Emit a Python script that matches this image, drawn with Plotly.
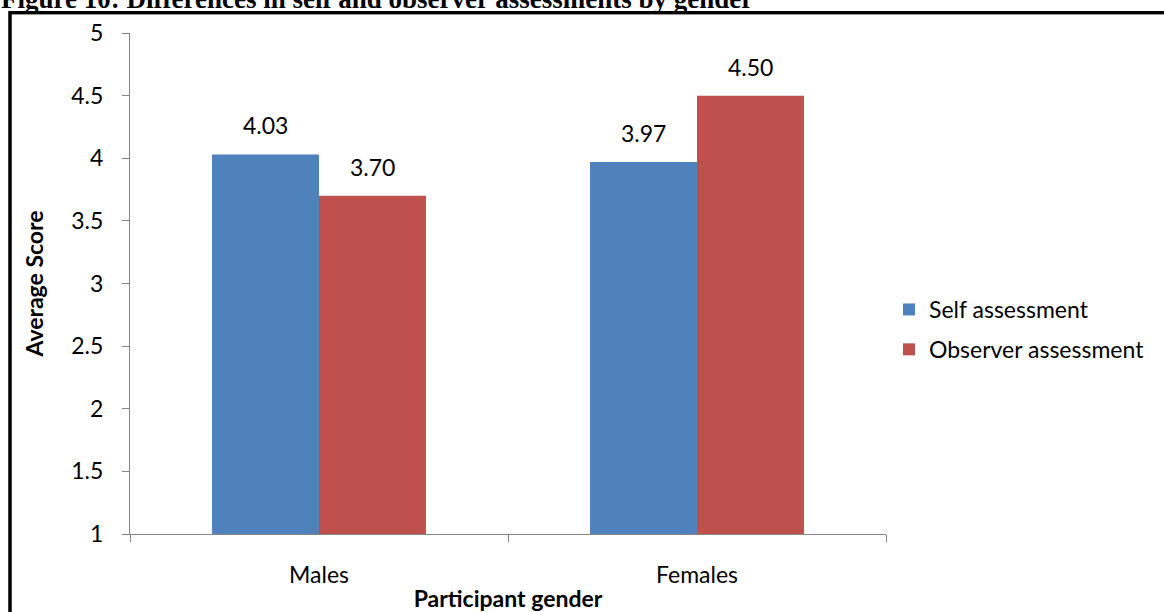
import plotly.graph_objects as go

categories = ["Males", "Females"]
self_scores = [4.03, 3.97]
observer_scores = [3.70, 4.50]
y_ticks = [1, 1.5, 2, 2.5, 3, 3.5, 4, 4.5, 5]

FONT = "Lato, 'Open Sans', sans-serif"
FS = 23
W, H = 1164, 612
L, R, T, B = 130, 278, 33, 78

fig = go.Figure()
fig.add_trace(go.Bar(
    name="Self assessment", x=categories, y=self_scores, legendgroup="self",
    marker=dict(color="#4F81BD", line=dict(width=0)), offsetgroup="self",
))
fig.add_trace(go.Bar(
    name="Observer assessment", x=categories, y=observer_scores, legendgroup="obs",
    marker=dict(color="#C0504D", line=dict(width=0)), offsetgroup="obs",
))

pw, ph = W - L - R, H - T - B
def px_x(p):
    return (p - L) / pw
def px_y(p):
    return (H - B - p) / ph

# value labels above each bar (bar centre offset within its category)
annotations = []
bar_offset = (1 - 0.434) / 4
for i, cat in enumerate(categories):
    for vals, shift in ((self_scores, -bar_offset), (observer_scores, bar_offset)):
        annotations.append(dict(
            x=i + shift, y=vals[i], xref="x", yref="y", text=f"{vals[i]:.2f}",
            showarrow=False, yanchor="bottom", yshift=13,
            font=dict(family=FONT, size=FS, color="#000000")))

annotations.append(dict(
    text="<b>Figure 10: Differences in self and observer assessments by gender</b>",
    xref="paper", yref="paper", x=px_x(-1), y=px_y(16),
    xanchor="left", yanchor="bottom", showarrow=False,
    font=dict(family="'Liberation Serif', 'Times New Roman', serif", size=27, color="#000000")))

shapes = [
    # outer frame
    dict(type="line", xref="paper", yref="paper", x0=px_x(10), x1=px_x(1170),
         y0=px_y(12.5), y1=px_y(12.5), line=dict(color="#000000", width=3)),
    dict(type="line", xref="paper", yref="paper", x0=px_x(10), x1=px_x(10),
         y0=px_y(11), y1=px_y(620), line=dict(color="#000000", width=3.5)),
    dict(type="line", xref="paper", yref="paper", x0=px_x(12), x1=px_x(1170),
         y0=px_y(14.5), y1=px_y(14.5), line=dict(color="#9a9a9a", width=1)),
]

fig.update_layout(
    width=W, height=H,
    margin=dict(l=L, r=R, t=T, b=B, autoexpand=False),
    paper_bgcolor="white", plot_bgcolor="white",
    barmode="group", bargap=0.434, bargroupgap=0,
    font=dict(family=FONT, size=FS, color="#000000"),
    showlegend=True,
    legend=dict(x=px_x(889), y=px_y(288), xanchor="left", yanchor="top",
                font=dict(size=FS), tracegroupgap=7,
                traceorder="grouped", itemwidth=30),
    xaxis=dict(showline=True, linecolor="#868686", linewidth=1,
               ticks="outside", ticklen=7, tickcolor="#868686",
               tickson="boundaries", showgrid=False, range=[-0.5, 1.5],
               ticklabelstandoff=20,
               title=dict(text="<b>Participant gender</b>", font=dict(size=FS), standoff=6)),
    yaxis=dict(range=[1, 5], tickvals=y_ticks, showline=True, linecolor="#868686",
               linewidth=1, ticks="outside", ticklen=7, tickcolor="#868686",
               showgrid=False, zeroline=False, ticklabelstandoff=14,
               title=dict(text="<b>Average Score</b>", font=dict(size=FS), standoff=21)),
    shapes=shapes,
    annotations=annotations,
)

fig.write_html("out.html")
